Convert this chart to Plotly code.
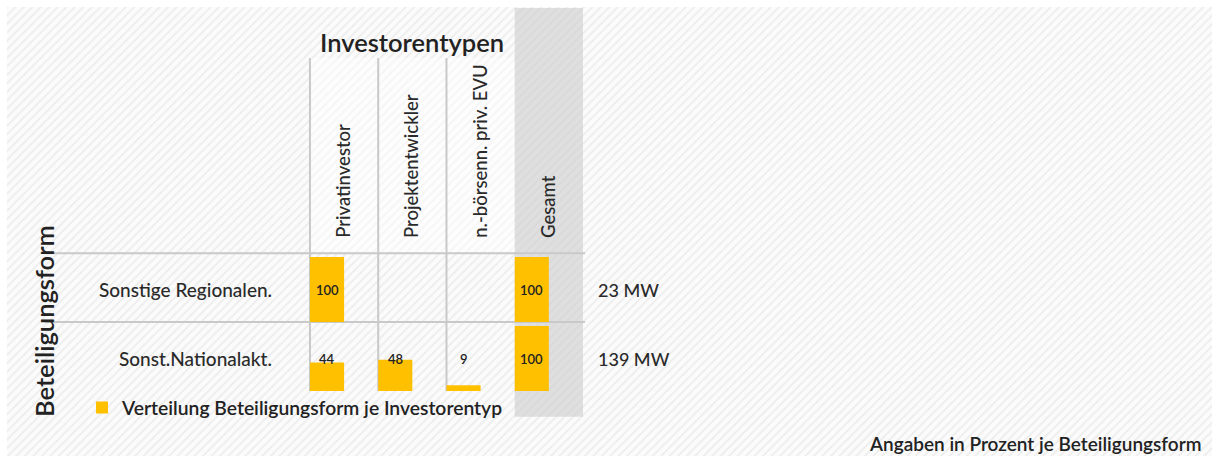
import plotly.graph_objects as go

# ---------------- data ----------------
investor_types = ["Privatinvestor", "Projektentwickler", "n.-börsenn. priv. EVU", "Gesamt"]
forms = ["Sonstige Regionalen.", "Sonst.Nationalakt."]
share_regional = [100, None, None, 100]
share_national = [44, 48, 9, 100]
capacity_labels = ["23 MW", "139 MW"]
legend_label = "Verteilung Beteiligungsform je Investorentyp"
col_title = "Investorentypen"
row_title = "Beteiligungsform"
note = "Angaben in Prozent je Beteiligungsform"

shares = [share_regional, share_national]

# ---------------- layout constants ----------------
W, H = 1212, 456
FONT = "Lato"
GOLD = "#FFC000"
DARK = "#222222"
MID = "#2a2a2a"
GRID = "#c9c9c9"
ROW_PITCH = 106          # y-units per matrix row (100 % bar + gap)
PX_PER_UNIT_Y = 0.65
PX_PER_COL = 68.25
COL0_PX = 344.1          # pixel centre of first column
BASE_PX = 391            # pixel of bottom row baseline


def x_of_px(px):
    return (px - COL0_PX) / PX_PER_COL


def y_of_px(py):
    return (BASE_PX - py) / PX_PER_UNIT_Y


n_rows = len(forms)
n_cols = len(investor_types)
row_bases = [(n_rows - 1 - r) * ROW_PITCH for r in range(n_rows)]

fig = go.Figure()

# hatched background
fig.add_trace(go.Scatter(
    x=[0, 1, 1, 0, 0], y=[0, 0, 1, 1, 0], xaxis="x", yaxis="y",
    mode="lines", line=dict(width=0), fill="toself", fillcolor="#fbfbfb",
    fillpattern=dict(shape="/", fgcolor="#dedede", bgcolor="#fbfbfb", size=6, solidity=0.3),
    hoverinfo="skip", showlegend=False,
))

# bars
for r, vals in enumerate(shares):
    fig.add_trace(go.Bar(
        x=investor_types, y=vals, base=row_bases[r],
        width=0.5, offset=-0.5,
        marker=dict(color=GOLD, line=dict(width=0)),
        xaxis="x2", yaxis="y2",
        name=legend_label, showlegend=(r == 0),
        hoverinfo="skip",
    ))

shapes = []
top_line = row_bases[0] + ROW_PITCH
head_top = y_of_px(58)
# lighter header area
shapes.append(dict(type="rect", xref="x2", yref="y2", x0=-0.5, x1=n_cols - 1.5,
                   y0=top_line, y1=head_top, fillcolor="rgba(255,255,255,0.45)",
                   line=dict(width=0), layer="below"))
# Gesamt band
shapes.append(dict(type="rect", xref="x2", yref="y2", x0=n_cols - 1.5, x1=n_cols - 0.5,
                   y0=y_of_px(416.7), y1=y_of_px(8), fillcolor="rgba(205,205,205,0.62)",
                   line=dict(width=0), layer="below"))
# vertical separators
for c in range(n_cols - 1):
    shapes.append(dict(type="line", xref="x2", yref="y2", x0=c - 0.5, x1=c - 0.5,
                       y0=0, y1=head_top, line=dict(color=GRID, width=2), layer="below"))
# horizontal separators
for r in range(n_rows):
    yv = row_bases[r] + ROW_PITCH
    shapes.append(dict(type="line", xref="x2", yref="y2", x0=x_of_px(45), x1=x_of_px(585),
                       y0=yv, y1=yv, line=dict(color=GRID, width=2), layer="below"))

annotations = []
# column headers
for c, name in enumerate(investor_types):
    annotations.append(dict(x=c - 0.02, y=y_of_px(240), xref="x2", yref="y2", text=name,
                            textangle=-90, xanchor="center", yanchor="bottom", showarrow=False,
                            font=dict(family=FONT, size=18.5, color=MID, weight=500)))
# value labels
for r, vals in enumerate(shares):
    for c, v in enumerate(vals):
        if v is None:
            continue
        annotations.append(dict(x=c - 0.25, y=row_bases[r] + 50, xref="x2", yref="y2",
                                text=str(v), showarrow=False, xanchor="center", yanchor="middle",
                                font=dict(family=FONT, size=13, color=DARK, weight=600)))
# row labels and capacities
for r, name in enumerate(forms):
    annotations.append(dict(x=274 / W, y=row_bases[r] + 50, xref="paper", yref="y2", text=name,
                            showarrow=False, xanchor="right", yanchor="middle",
                            font=dict(family=FONT, size=19, color=MID, weight=500)))
    annotations.append(dict(x=596 / W, y=row_bases[r] + 50, xref="paper", yref="y2",
                            text=capacity_labels[r], showarrow=False, xanchor="left",
                            yanchor="middle", font=dict(family=FONT, size=18, color=MID, weight=500)))
# titles
annotations.append(dict(x=(n_cols - 2) / 2, y=1 - 42 / H, xref="x2", yref="paper", text=col_title,
                        showarrow=False, xanchor="center", yanchor="middle",
                        font=dict(family=FONT, size=25.5, color=DARK, weight=600)))
annotations.append(dict(x=44 / W, y=1 - 419 / H, xref="paper", yref="paper", text=row_title,
                        textangle=-90, showarrow=False, xanchor="center", yanchor="bottom",
                        font=dict(family=FONT, size=25.5, color=DARK, weight=600)))
annotations.append(dict(x=1203 / W, y=1 - 443 / H, xref="paper", yref="paper", text=note,
                        showarrow=False, xanchor="right", yanchor="middle",
                        font=dict(family=FONT, size=19, color=DARK, weight=600)))

fig.update_layout(
    width=W, height=H, margin=dict(l=0, r=0, t=0, b=0),
    paper_bgcolor="white", plot_bgcolor="rgba(0,0,0,0)",
    barmode="overlay",
    xaxis=dict(domain=[7 / W, 1], range=[0, 1], visible=False, fixedrange=True),
    yaxis=dict(domain=[0, 1 - 7 / H], range=[0, 1], visible=False, fixedrange=True),
    xaxis2=dict(domain=[0, 1], type="category", range=[x_of_px(0), x_of_px(W)],
                visible=False, fixedrange=True),
    yaxis2=dict(domain=[0, 1], range=[y_of_px(H), y_of_px(0)], visible=False, fixedrange=True),
    shapes=shapes,
    annotations=annotations,
    showlegend=True,
    legend=dict(x=82 / W, y=1 - 408 / H, xanchor="left", yanchor="middle",
                bgcolor="rgba(0,0,0,0)", font=dict(family=FONT, size=19.3, color=DARK, weight=600),
                itemclick=False, itemdoubleclick=False),
)

fig.write_html("out.html")
